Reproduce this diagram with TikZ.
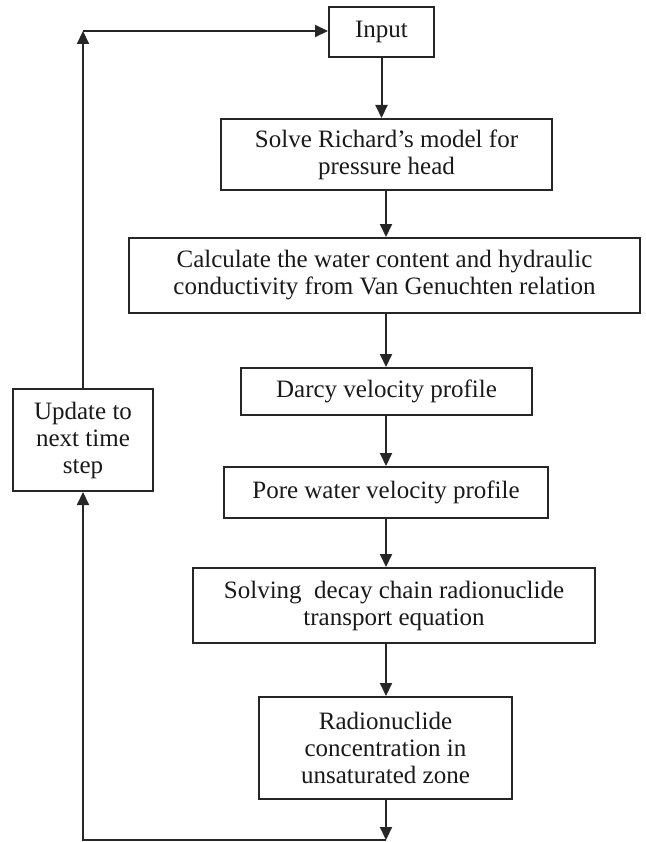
\documentclass[tikz,border=0pt]{standalone}
\usepackage{fontspec}
\setmainfont{Liberation Serif}
\usetikzlibrary{arrows.meta}
\begin{document}
\begin{tikzpicture}[x=1pt,y=-1pt,
  box/.style={draw=black!85, line width=2pt, align=center, inner sep=2pt,
    font=\fontsize{25}{27}\selectfont, text=black!90},
  flow/.style={draw=black!85, line width=2pt, -{Triangle[length=13pt,width=12pt]}}]
\useasboundingbox (0,0) rectangle (645,842);
\node[box, minimum width=105pt, minimum height=50pt] (input) at (381.5,32) {Input};
\node[box, minimum width=331pt, minimum height=71pt] (solve) at (386.5,154.5) {Solve Richard’s model for\\pressure head};
\node[box, minimum width=511pt, minimum height=75pt] (calc) at (384.5,275.5) {Calculate the water content and hydraulic\\conductivity from Van Genuchten relation};
\node[box, minimum width=291pt, minimum height=47pt] (darcy) at (386.5,391.5) {Darcy velocity profile};
\node[box, minimum width=324pt, minimum height=51pt] (pore) at (386,492.5) {Pore water velocity profile};
\node[box, minimum width=402pt, minimum height=75pt] (decay) at (394,605.5) {Solving\ \ decay chain radionuclide\\transport equation};
\node[box, minimum width=253pt, minimum height=102pt] (radio) at (385.5,748) {Radionuclide\\concentration in\\unsaturated zone};
\node[box, minimum width=140pt, minimum height=102pt] (update) at (83,440) {Update to\\next time\\step};
\coordinate (ax) at (386,0);
\coordinate (bot) at (386,840);
\coordinate (topl) at (83,31);
\draw[flow] (input.south) -- (input.south |- solve.north);
\draw[flow] (solve.south -| ax) -- (calc.north -| ax);
\draw[flow] (calc.south -| ax) -- (darcy.north -| ax);
\draw[flow] (darcy.south -| ax) -- (pore.north -| ax);
\draw[flow] (pore.south -| ax) -- (decay.north -| ax);
\draw[flow] (decay.south -| ax) -- (radio.north -| ax);
\draw[flow] (radio.south -| ax) -- (bot);
\draw[flow] (bot) -- (bot -| update.south) -- (update.south);
\draw[flow] (update.north) -- (topl);
\draw[flow] (topl) -- (topl -| input.west);
\end{tikzpicture}
\end{document}
